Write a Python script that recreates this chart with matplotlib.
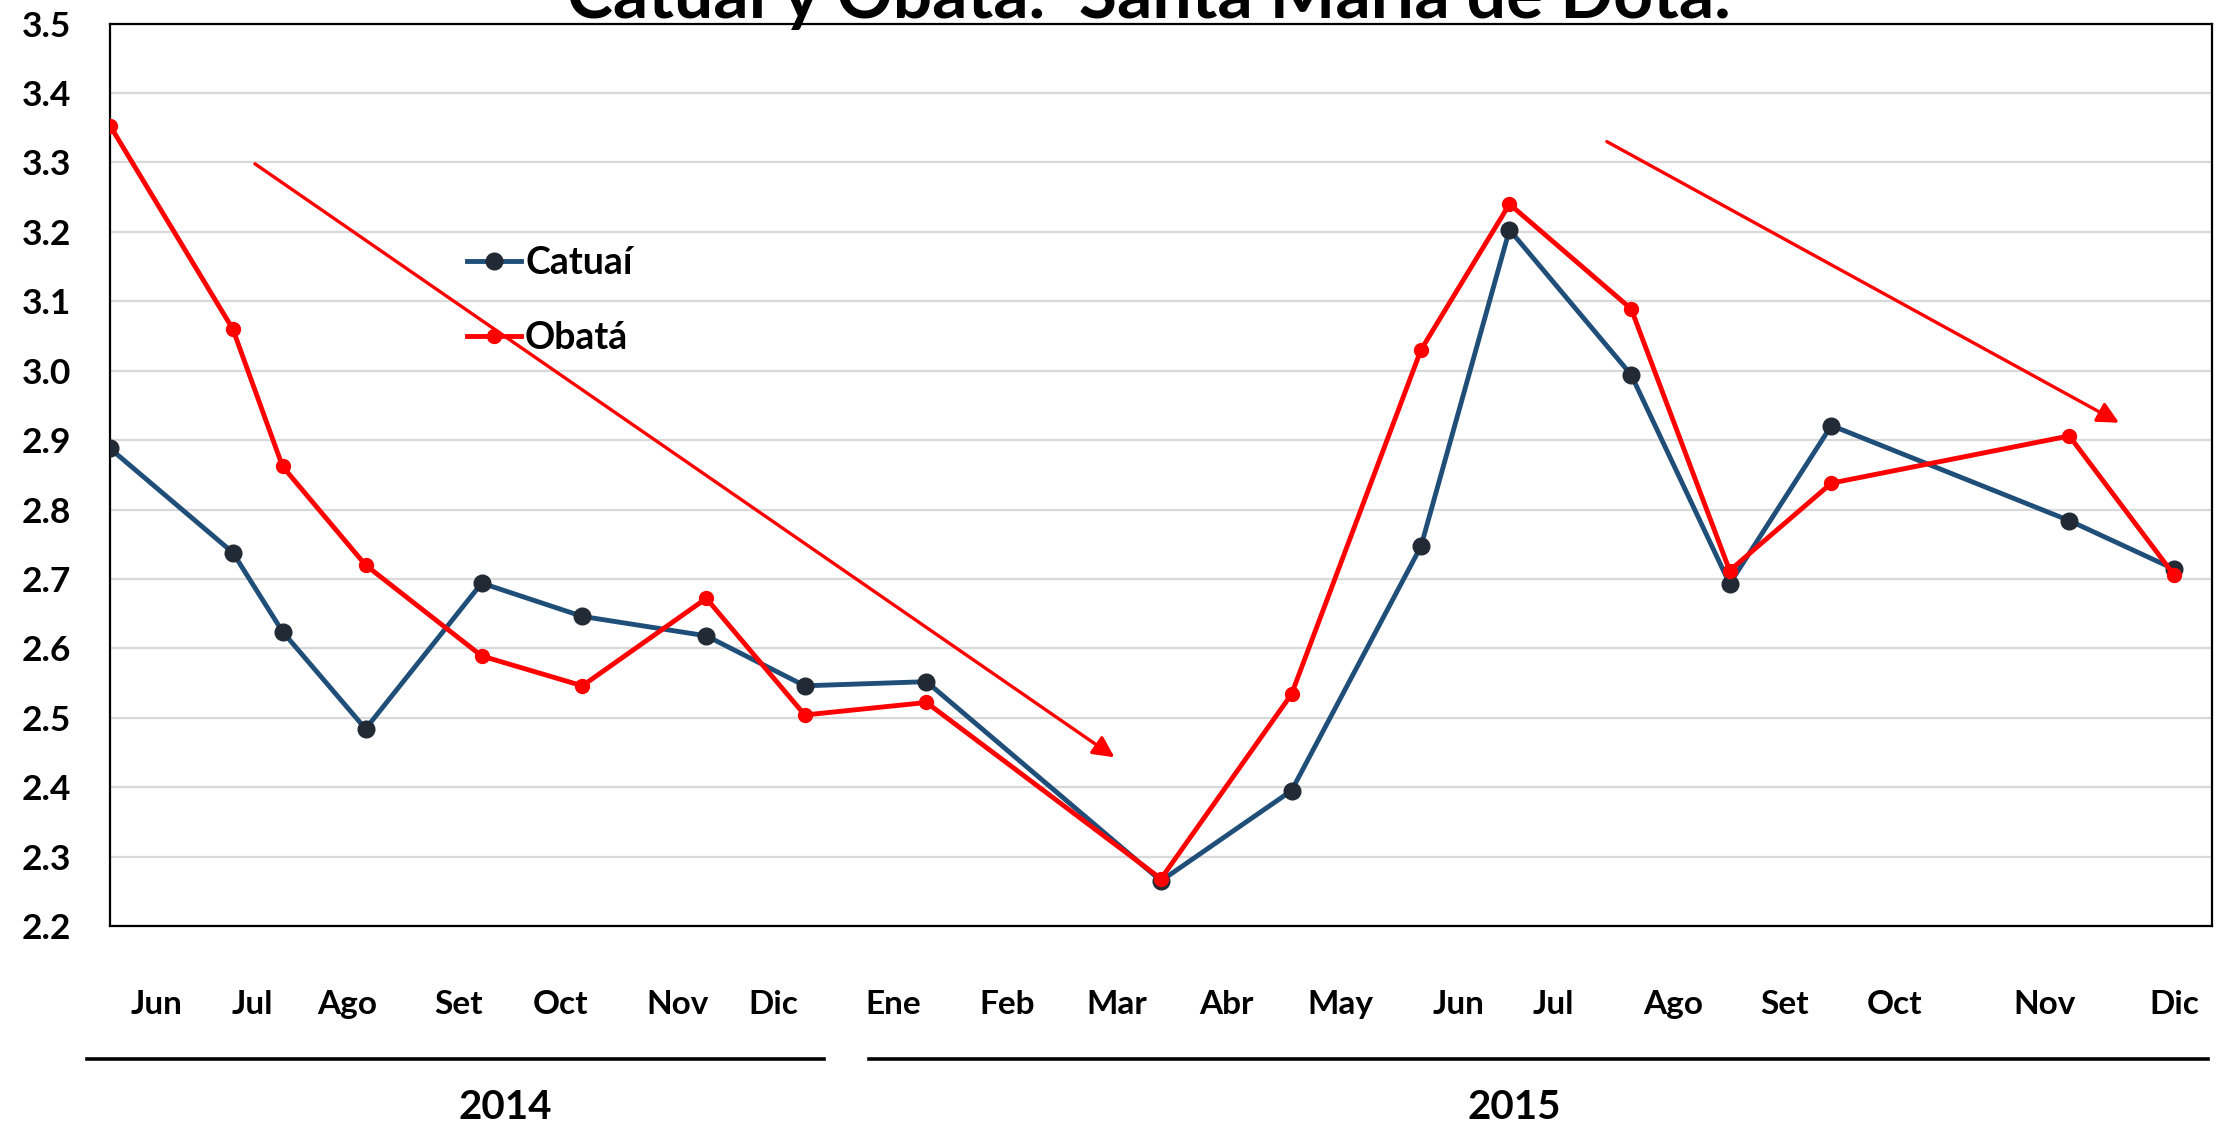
import matplotlib
matplotlib.use('Agg')
import matplotlib.pyplot as plt
import matplotlib.transforms as mtransforms

plt.rcParams['font.family'] = ['Lato', 'DejaVu Sans']
plt.rcParams['font.weight'] = 'bold'

# x position of each sample, in months after the start of the chart
sample_x = [0.00, 1.11, 1.56, 2.31, 3.36, 4.27, 5.39, 6.28, 7.38,
            9.50, 10.68, 11.85, 12.65, 13.75, 14.64, 15.56, 17.71, 18.66]
catuai = [2.888, 2.738, 2.624, 2.484, 2.694, 2.646, 2.618, 2.546, 2.552,
          2.265, 2.395, 2.747, 3.203, 2.994, 2.693, 2.921, 2.784, 2.714]
obata = [3.353, 3.060, 2.862, 2.720, 2.589, 2.546, 2.672, 2.504, 2.522,
         2.268, 2.534, 3.030, 3.240, 3.089, 2.712, 2.838, 2.906, 2.705]

month_labels = ['Jun', 'Jul', 'Ago', 'Set', 'Oct', 'Nov', 'Dic',
                'Ene', 'Feb', 'Mar', 'Abr', 'May', 'Jun', 'Jul', 'Ago',
                'Set', 'Oct', 'Nov', 'Dic']
month_pos = [0.42, 1.29, 2.14, 3.15, 4.07, 5.13, 6.00, 7.08, 8.11, 9.10,
             10.09, 11.12, 12.19, 13.05, 14.13, 15.14, 16.13, 17.49, 18.66]

years = ['2014', '2015']
year_center = [3.57, 12.69]
year_span = [(-0.21, 6.45), (6.86, 18.96)]

# trend arrows: (x start, y start, x end, y end)
trend_arrows = [(1.31, 3.298, 9.08, 2.443),
                (13.53, 3.330, 18.16, 2.925)]

title = 'Catuaí y Obatá.  Santa María de Dota.'

W, H = 2221, 1128
fig = plt.figure(figsize=(W / 100, H / 100), dpi=100)
left, right, top, bottom = 110, 2212, 23.6, 926
ax = fig.add_axes([left / W, 1 - bottom / H, (right - left) / W, (bottom - top) / H])

ax.plot(sample_x, catuai, color='#1F4E79', lw=3.5, marker='o', ms=12,
        mfc='#222A35', mec='#222A35', label='Catuaí', zorder=3)
ax.plot(sample_x, obata, color='#FF0000', lw=3.5, marker='o', ms=10,
        mfc='#FF0000', mec='#FF0000', label='Obatá', zorder=4)

for x0, y0, x1, y1 in trend_arrows:
    ax.annotate('', xy=(x1, y1), xytext=(x0, y0),
                arrowprops=dict(arrowstyle='-|>', color='#FF0000', lw=2.4,
                                mutation_scale=32, shrinkA=0, shrinkB=0),
                zorder=5)

ax.set_xlim(0, 19)
ax.set_ylim(2.2, 3.5)
ax.set_yticks([2.2 + 0.1 * i for i in range(14)])
ax.yaxis.set_major_formatter(matplotlib.ticker.FormatStrFormatter('%.1f'))
ax.yaxis.grid(True, color='#D9D9D9', lw=1.6)
ax.set_axisbelow(True)
ax.tick_params(axis='y', length=0, pad=28, labelsize=25.5)
ax.set_xticks(month_pos, month_labels)
ax.tick_params(axis='x', length=0, pad=46, labelsize=24)
for s in ax.spines.values():
    s.set_color('black')
    s.set_linewidth(1.6)

trans = mtransforms.blended_transform_factory(ax.transData, ax.transAxes)
for (a, b), lab, xc in zip(year_span, years, year_center):
    ax.plot([a, b], [-0.1474, -0.1474], color='black', lw=2.6,
            transform=trans, clip_on=False)
    ax.text(xc, -0.2006, lab, transform=trans, ha='center', va='center',
            fontsize=29, fontweight='bold')

ax.legend(loc='upper left', bbox_to_anchor=(467 / W, 1 - 246 / H),
          bbox_transform=fig.transFigure, frameon=False, fontsize=27,
          handlelength=1.45, handletextpad=0.1, labelspacing=1.1,
          borderpad=0, borderaxespad=0)

fig.text(1149 / W, 1 - 18.3 / H, title, ha='center', va='baseline',
         fontsize=50, fontweight='bold')

fig.savefig('out.png', dpi=100)
